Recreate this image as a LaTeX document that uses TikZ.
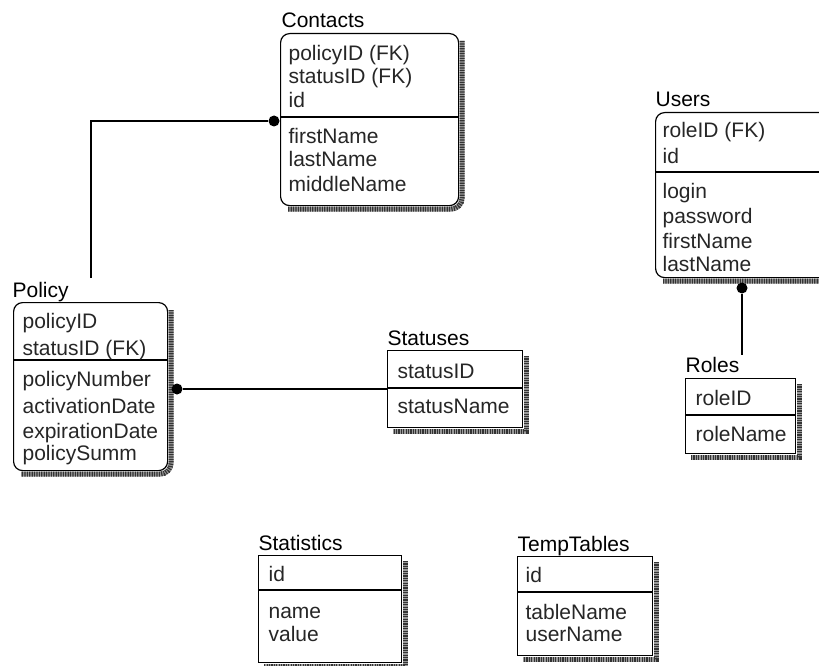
\documentclass[tikz,border=0pt]{standalone}
\usepackage{fontspec}
\setmainfont{Liberation Sans}

\tikzset{
  entity/.style={draw, fill=white, anchor=north west, inner sep=0pt},
  dependent/.style={entity, rounded corners=9pt},
  shade/.style={draw=black!40, line width=5pt,
    postaction={draw=black!80, line width=5pt, dash pattern=on 1.2pt off 1.2pt}},
  tabname/.style={anchor=base west, inner sep=0pt},
  field/.style={anchor=base west, inner sep=0pt, text=black!85},
  joint/.style={circle, fill=black, inner sep=0pt, minimum size=11pt},
}

\begin{document}
\begin{tikzpicture}[x=1pt, y=-1pt, line width=1.2pt,
    font=\fontsize{21}{24}\selectfont]
  \useasboundingbox (0,0) rectangle (819,666);
  \clip (0,0) rectangle (819,666);

  % Contacts
  \node[tabname] (contactsT) at (281,28) {Contacts};
  \node[dependent, minimum width=178pt, minimum height=172pt] (contacts) at (280,33) {};
  \draw (contacts.west |- 0,117) -- (contacts.east |- 0,117);
  \foreach \f/\y in {policyID (FK)/61, statusID (FK)/84, id/108,
      firstName/143, lastName/167, middleName/191}
    \node[field] (contacts-\y) at (288,\y) {\f};

  % Users
  \node[tabname] (usersT) at (655,107) {Users};
  \node[dependent, minimum width=180pt, minimum height=165pt] (users) at (655,112) {};
  \draw (users.west |- 0,172) -- (users.east |- 0,172);
  \foreach \f/\y in {roleID (FK)/138, id/163, login/198, password/223,
      firstName/248, lastName/271}
    \node[field] (users-\y) at (662,\y) {\f};

  % Policy
  \node[tabname] (policyT) at (12,297) {Policy};
  \node[dependent, minimum width=154pt, minimum height=168pt] (policy) at (13,302) {};
  \draw (policy.west |- 0,360) -- (policy.east |- 0,360);
  \foreach \f/\y in {policyID/328, statusID (FK)/355, policyNumber/386,
      activationDate/413, expirationDate/438, policySumm/460}
    \node[field] (policy-\y) at (22,\y) {\f};

  % Statuses
  \node[tabname] (statusesT) at (387,345) {Statuses};
  \node[entity, minimum width=135pt, minimum height=77pt] (statuses) at (387,350) {};
  \draw (statuses.west |- 0,388) -- (statuses.east |- 0,388);
  \foreach \f/\y in {statusID/378, statusName/413}
    \node[field] (statuses-\y) at (397,\y) {\f};

  % Roles
  \node[tabname] (rolesT) at (685,372) {Roles};
  \node[entity, minimum width=110pt, minimum height=75pt] (roles) at (685,378) {};
  \draw (roles.west |- 0,415) -- (roles.east |- 0,415);
  \foreach \f/\y in {roleID/405, roleName/441}
    \node[field] (roles-\y) at (695,\y) {\f};

  % Statistics
  \node[tabname] (statisticsT) at (258,550) {Statistics};
  \node[entity, minimum width=143pt, minimum height=107pt] (statistics) at (258,555) {};
  \draw (statistics.west |- 0,590) -- (statistics.east |- 0,590);
  \foreach \f/\y in {id/581, name/618, value/641}
    \node[field] (statistics-\y) at (268,\y) {\f};

  % TempTables
  \node[tabname] (temptablesT) at (517,551) {TempTables};
  \node[entity, minimum width=135pt, minimum height=99pt] (temptables) at (517,556) {};
  \draw (temptables.west |- 0,592) -- (temptables.east |- 0,592);
  \foreach \f/\y in {id/582, tableName/619, userName/641}
    \node[field] (temptables-\y) at (525,\y) {\f};

  % shadows
  \foreach \b in {contacts, users, policy}
    \draw[shade, rounded corners=11pt] ([xshift=2.9pt, yshift=-8pt]\b.north east)
      |- ([xshift=8pt, yshift=-2.9pt]\b.south west);
  \foreach \b in {statuses, roles, statistics, temptables}
    \draw[shade] ([xshift=2.9pt, yshift=-6pt]\b.north east)
      |- ([xshift=6pt, yshift=-2.9pt]\b.south west);

  % relationships
  \node[joint] (contactsJ) at (274,121) {};
  \coordinate (policyUp) at (91,278);
  \draw (policyUp) |- (contactsJ);

  \node[joint] (policyJ) at (177,389) {};
  \draw (policyJ) -- (statuses.west |- policyJ);

  \node[joint] (usersJ) at (742,288) {};
  \coordinate (rolesUp) at (742,355);
  \draw (usersJ) -- (rolesUp);
\end{tikzpicture}
\end{document}
